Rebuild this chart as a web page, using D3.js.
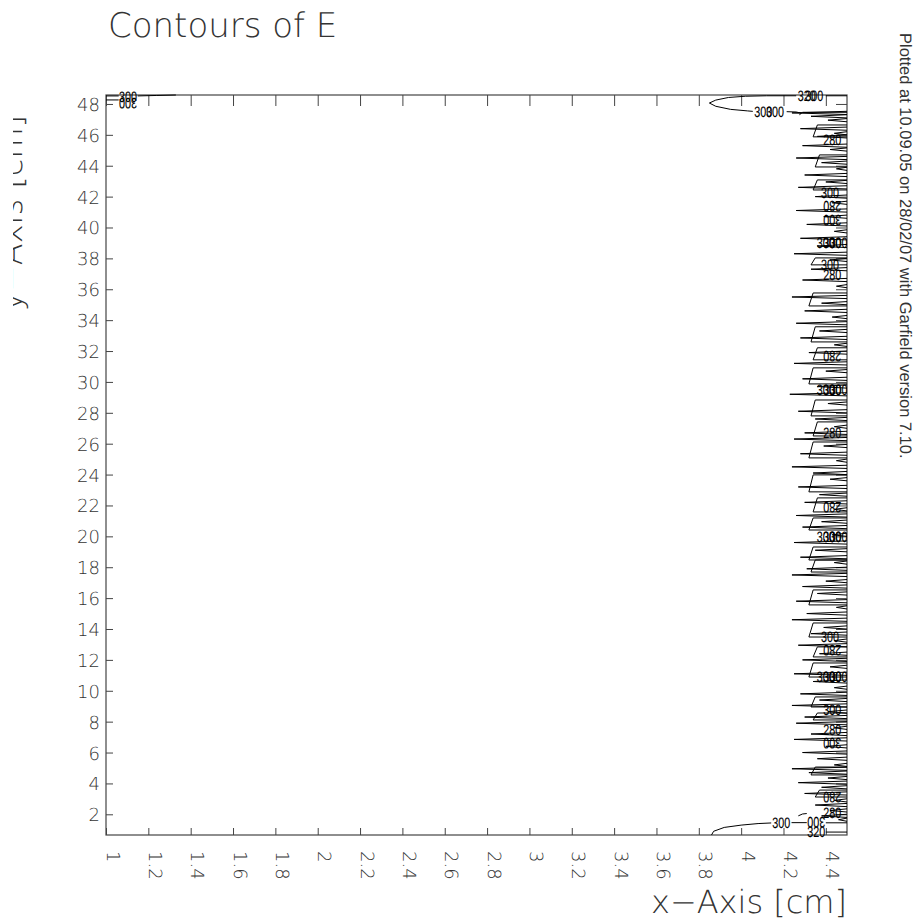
<!DOCTYPE html>
<html>
<head>
<meta charset="utf-8">
<script src="https://cdn.jsdelivr.net/npm/d3@7"></script>
<style>
  html, body { margin: 0; padding: 0; background: #fff; }
  svg { display: block; }
  text { text-rendering: geometricPrecision; }
</style>
</head>
<body>
<svg id="chart" width="918" height="920"></svg>
<script>
// ---------------- data ----------------
const titleText = "Contours of E";
const xAxisTitle = "x\u2212Axis [cm]";
const yAxisTitle = "y\u2212Axis [cm]";
const stampText = "Plotted at 10.09.05 on 28/02/07 with Garfield version 7.10.";

const xDomain = [1, 4.5];
const yDomain = [0.66, 48.58];

const xTicks = [1, 1.2, 1.4, 1.6, 1.8, 2, 2.2, 2.4, 2.6, 2.8, 3, 3.2, 3.4, 3.6, 3.8, 4, 4.2, 4.4];
const xTickLabels = ["1", "1.2", "1.4", "1.6", "1.8", "2", "2.2", "2.4", "2.6", "2.8", "3", "3.2", "3.4", "3.6", "3.8", "4", "4.2", "4.4"];
const yTicks = [2, 4, 6, 8, 10, 12, 14, 16, 18, 20, 22, 24, 26, 28, 30, 32, 34, 36, 38, 40, 42, 44, 46, 48];
const yTickLabels = ["2", "4", "6", "8", "10", "12", "14", "16", "18", "20", "22", "24", "26", "28", "30", "32", "34", "36", "38", "40", "42", "44", "46", "48"];

// contour line pieces (x [cm], y [cm]); broken where labels sit
const contourLines = [
  [[1.00, 48.52], [1.06, 48.52]],
  [[1.15, 48.52], [1.24, 48.55], [1.33, 48.58]],
  [[1.00, 48.26], [1.06, 48.26]],
  [[3.85, 48.06], [3.88, 48.25], [3.94, 48.42], [4.02, 48.50], [4.12, 48.53], [4.26, 48.53]],
  [[4.40, 48.53], [4.50, 48.53]],
  [[3.85, 48.06], [3.88, 47.85], [3.95, 47.65], [4.03, 47.55], [4.055, 47.52]],
  [[4.215, 47.50], [4.26, 47.48], [4.285, 47.40], [4.275, 47.30]],
  [[4.29, 47.46], [4.50, 47.46]],
  [[3.86, 0.66], [3.87, 0.90], [3.92, 1.15], [4.00, 1.30], [4.08, 1.40], [4.142, 1.44]],
  [[4.238, 1.46], [4.31, 1.46]],
  [[4.27, 1.90], [4.29, 2.02], [4.31, 2.05]],
  [[4.40, 1.45], [4.50, 1.45]],
  [[4.40, 0.85], [4.50, 0.85]]
];

// closed cells near the wires: [yTop, yBottom, xLeft]
const cellBoxes = [
  [46.64, 45.87, 4.34], [44.70, 43.92, 4.35], [43.08, 42.43, 4.34], [38.03, 37.58, 4.33],
  [35.76, 34.92, 4.32], [33.57, 32.59, 4.33], [32.21, 31.43, 4.34], [30.91, 29.87, 4.32],
  [28.83, 27.80, 4.33], [27.41, 26.50, 4.34], [26.11, 25.08, 4.32], [23.98, 22.88, 4.32],
  [22.49, 21.58, 4.34], [21.19, 20.41, 4.32], [19.31, 18.47, 4.32], [18.47, 17.69, 4.33],
  [16.53, 15.56, 4.32], [14.39, 13.48, 4.32], [12.84, 12.19, 4.34], [11.80, 10.89, 4.32],
  [9.60, 8.95, 4.33], [8.56, 8.11, 4.34], [5.06, 4.55, 4.33], [3.57, 3.12, 4.35]
];

// narrow contour spikes reaching in from the right edge: [y, xTip]
const spikes = [
  [47.42,4.24],[47.20,4.33],[46.95,4.41],[46.40,4.28],[46.10,4.44],[45.90,4.36],[45.30,4.29],[45.05,4.42],
  [44.50,4.26],[44.20,4.38],[43.80,4.45],[43.40,4.30],[42.95,4.40],[42.60,4.27],[42.00,4.35],[41.60,4.43],
  [41.10,4.26],[40.70,4.39],[40.20,4.31],[39.75,4.44],[39.30,4.28],[38.80,4.36],[38.30,4.25],[37.90,4.42],
  [37.30,4.33],[36.60,4.29],[36.20,4.45],[35.50,4.24],[35.10,4.38],[34.60,4.30],[34.20,4.43],[33.80,4.26],
  [33.30,4.37],[32.85,4.28],[32.40,4.44],[31.90,4.32],[31.20,4.25],[30.70,4.40],[30.20,4.29],[29.70,4.36],
  [29.20,4.23],[28.60,4.41],[28.10,4.27],[27.60,4.35],[27.10,4.44],[26.70,4.30],[26.30,4.25],[25.85,4.39],
  [25.35,4.28],[24.90,4.45],[24.50,4.24],[24.10,4.34],[23.70,4.42],[23.20,4.27],[22.70,4.37],[22.20,4.30],
  [21.75,4.44],[21.35,4.26],[20.95,4.38],[20.60,4.29],[20.10,4.43],[19.60,4.25],[19.10,4.35],[18.65,4.28],
  [18.30,4.44],[17.90,4.31],[17.50,4.24],[17.10,4.40],[16.75,4.29],[16.30,4.36],[15.80,4.26],[15.40,4.45],
  [15.00,4.31],[14.60,4.24],[14.10,4.39],[13.70,4.33],[13.25,4.44],[12.95,4.27],[12.40,4.37],[12.00,4.29],
  [11.55,4.42],[11.10,4.25],[10.60,4.34],[10.20,4.44],[9.80,4.28],[9.40,4.37],[9.05,4.24],[8.65,4.41],
  [8.30,4.30],[7.90,4.26],[7.60,4.44],[7.20,4.33],[6.85,4.25],[6.40,4.40],[6.00,4.29],[5.60,4.36],
  [5.20,4.44],[4.95,4.24],[4.70,4.32],[4.35,4.41],[4.05,4.27],[3.75,4.38],[3.35,4.30],[2.90,4.44],
  [2.60,4.35],[2.25,4.42],[1.90,4.38],[1.65,4.46]
];

// contour labels: [x, y, text, upsideDown]
const edgeLabels = [
  [1.104, 48.50, "300", false], [1.104, 48.02, "300", true],
  [4.31, 48.53, "320", false], [4.345, 48.53, "300", false],
  [4.105, 47.50, "300", false], [4.16, 47.50, "300", false],
  [4.19, 1.46, "300", false], [4.355, 1.45, "300", true], [4.355, 0.85, "320", false]
];
const stripLabels = [
  [4.43, 45.67, "280", false],
  [4.42, 42.24, "300", false], [4.43, 41.34, "280", true], [4.43, 40.49, "300", true],
  [4.40, 39.00, "300", false], [4.43, 39.00, "300", false], [4.46, 39.00, "300", false],
  [4.42, 37.58, "300", false], [4.43, 36.93, "280", false],
  [4.43, 31.62, "280", true],
  [4.40, 29.48, "300", false], [4.43, 29.48, "300", false], [4.46, 29.48, "300", false],
  [4.43, 26.70, "280", false],
  [4.43, 21.90, "280", true],
  [4.40, 19.96, "300", false], [4.43, 19.96, "300", false], [4.46, 19.96, "300", false],
  [4.42, 13.48, "300", false], [4.43, 12.64, "280", true],
  [4.40, 10.89, "300", false], [4.43, 10.89, "300", false], [4.46, 10.89, "300", false],
  [4.43, 8.76, "300", false], [4.43, 7.46, "280", false], [4.43, 6.62, "300", true],
  [4.43, 3.12, "280", true], [4.43, 2.08, "280", false]
];

// ---------------- drawing ----------------
const svg = d3.select("#chart");
const L = 106, R = 847, T = 95, B = 835;
const x = d3.scaleLinear().domain(xDomain).range([L, R]);
const y = d3.scaleLinear().domain(yDomain).range([B, T]);

const axisColor = "#444";
const textColor = "#333";
const geoFont = "'DejaVu Sans', sans-serif";

const defs = svg.append("defs");
defs.append("clipPath").attr("id", "plotClip")
  .append("rect").attr("x", L).attr("y", T).attr("width", R - L).attr("height", B - T);
defs.append("clipPath").attr("id", "yTitleClip")
  .append("rect").attr("x", 13).attr("y", 0).attr("width", 60).attr("height", 920);

// title
svg.append("text").attr("x", 108).attr("y", 37)
  .attr("font-family", geoFont).attr("font-size", 34).attr("font-weight", 200)
  .attr("fill", textColor).text(titleText);

// axes
const gx = svg.append("g").attr("transform", `translate(0,${B})`)
  .call(d3.axisBottom(x).tickValues(xTicks).tickSizeInner(-7).tickSizeOuter(0)
    .tickFormat((d, i) => xTickLabels[i]));
gx.select(".domain").remove();
gx.selectAll(".tick line").attr("stroke", axisColor);
gx.selectAll(".tick text")
  .attr("transform", "rotate(90)")
  .attr("x", 16).attr("y", 0).attr("dy", 0)
  .attr("text-anchor", "start")
  .attr("font-family", geoFont).attr("font-size", 18).attr("font-weight", 200)
  .attr("fill", textColor);

const gy = svg.append("g").attr("transform", `translate(${L},0)`)
  .call(d3.axisLeft(y).tickValues(yTicks).tickSizeInner(-7).tickSizeOuter(0).tickPadding(6)
    .tickFormat((d, i) => yTickLabels[i]));
gy.select(".domain").remove();
gy.selectAll(".tick line").attr("stroke", axisColor);
gy.selectAll(".tick text")
  .attr("dy", "0.36em")
  .attr("font-family", geoFont).attr("font-size", 18).attr("font-weight", 200)
  .attr("fill", textColor);

const gt = svg.append("g").attr("transform", `translate(0,${T})`)
  .call(d3.axisTop(x).tickValues(xTicks).tickSizeInner(-11).tickSizeOuter(0).tickFormat(""));
gt.select(".domain").remove();
gt.selectAll(".tick line").attr("stroke", axisColor);

const gr = svg.append("g").attr("transform", `translate(${R},0)`)
  .call(d3.axisRight(y).tickValues(yTicks).tickSizeInner(-11).tickSizeOuter(0).tickFormat(""));
gr.select(".domain").remove();
gr.selectAll(".tick line").attr("stroke", axisColor);

// frame
svg.append("rect").attr("x", L).attr("y", T).attr("width", R - L).attr("height", B - T)
  .attr("fill", "none").attr("stroke", axisColor).attr("stroke-width", 1.2);

// axis titles
svg.append("text").attr("x", R).attr("y", 913).attr("text-anchor", "end")
  .attr("font-family", geoFont).attr("font-size", 32).attr("font-weight", 200)
  .attr("fill", textColor).text(xAxisTitle);

svg.append("g").attr("clip-path", "url(#yTitleClip)")
  .append("text").attr("transform", "translate(22,311) rotate(-90)")
  .attr("text-anchor", "start")
  .attr("font-family", geoFont).attr("font-size", 32).attr("font-weight", 200)
  .attr("fill", textColor).text(yAxisTitle);

// stamp
svg.append("text").attr("transform", "translate(900,33) rotate(90)")
  .attr("font-family", "'Liberation Sans', Arial, sans-serif").attr("font-size", 16.5)
  .attr("fill", "#333").text(stampText);

// contours
const line = d3.line().x(d => x(d[0])).y(d => y(d[1]));
svg.append("g").attr("fill", "none").attr("stroke", "#000").attr("stroke-width", 1)
  .selectAll("path").data(contourLines).join("path").attr("d", line);

const strip = svg.append("g").attr("clip-path", "url(#plotClip)");
strip.append("g").attr("fill", "none").attr("stroke", "#000").attr("stroke-width", 1)
  .selectAll("path").data(cellBoxes).join("path")
  .attr("d", d => line([[xDomain[1], d[0]], [d[2] + 0.02, d[0]], [d[2], d[1]], [xDomain[1], d[1]]]));

strip.append("g").attr("fill", "none").attr("stroke", "#000").attr("stroke-width", 1)
  .selectAll("path").data(spikes).join("path")
  .attr("d", d => {
    const y0 = y(d[0]), xe = x(xDomain[1]), xt = x(d[1]);
    return `M${xe},${y0 - 1.6}L${xt},${y0}L${xe},${y0 + 1.6}`;
  });

function drawLabels(g, data) {
  g.selectAll("text").data(data).join("text")
    .attr("transform", d => `translate(${x(d[0])},${y(d[1])}) ${d[3] ? "rotate(180)" : ""} scale(0.72,1)`)
    .attr("text-anchor", "middle").attr("dy", "0.36em")
    .attr("font-family", "'Liberation Sans', Arial, sans-serif").attr("font-size", 15)
    .attr("fill", "#000").attr("stroke", "#000").attr("stroke-width", 0.15)
    .text(d => d[2]);
}
drawLabels(svg.append("g"), edgeLabels);
drawLabels(strip.append("g"), stripLabels);
</script>
</body>
</html>
